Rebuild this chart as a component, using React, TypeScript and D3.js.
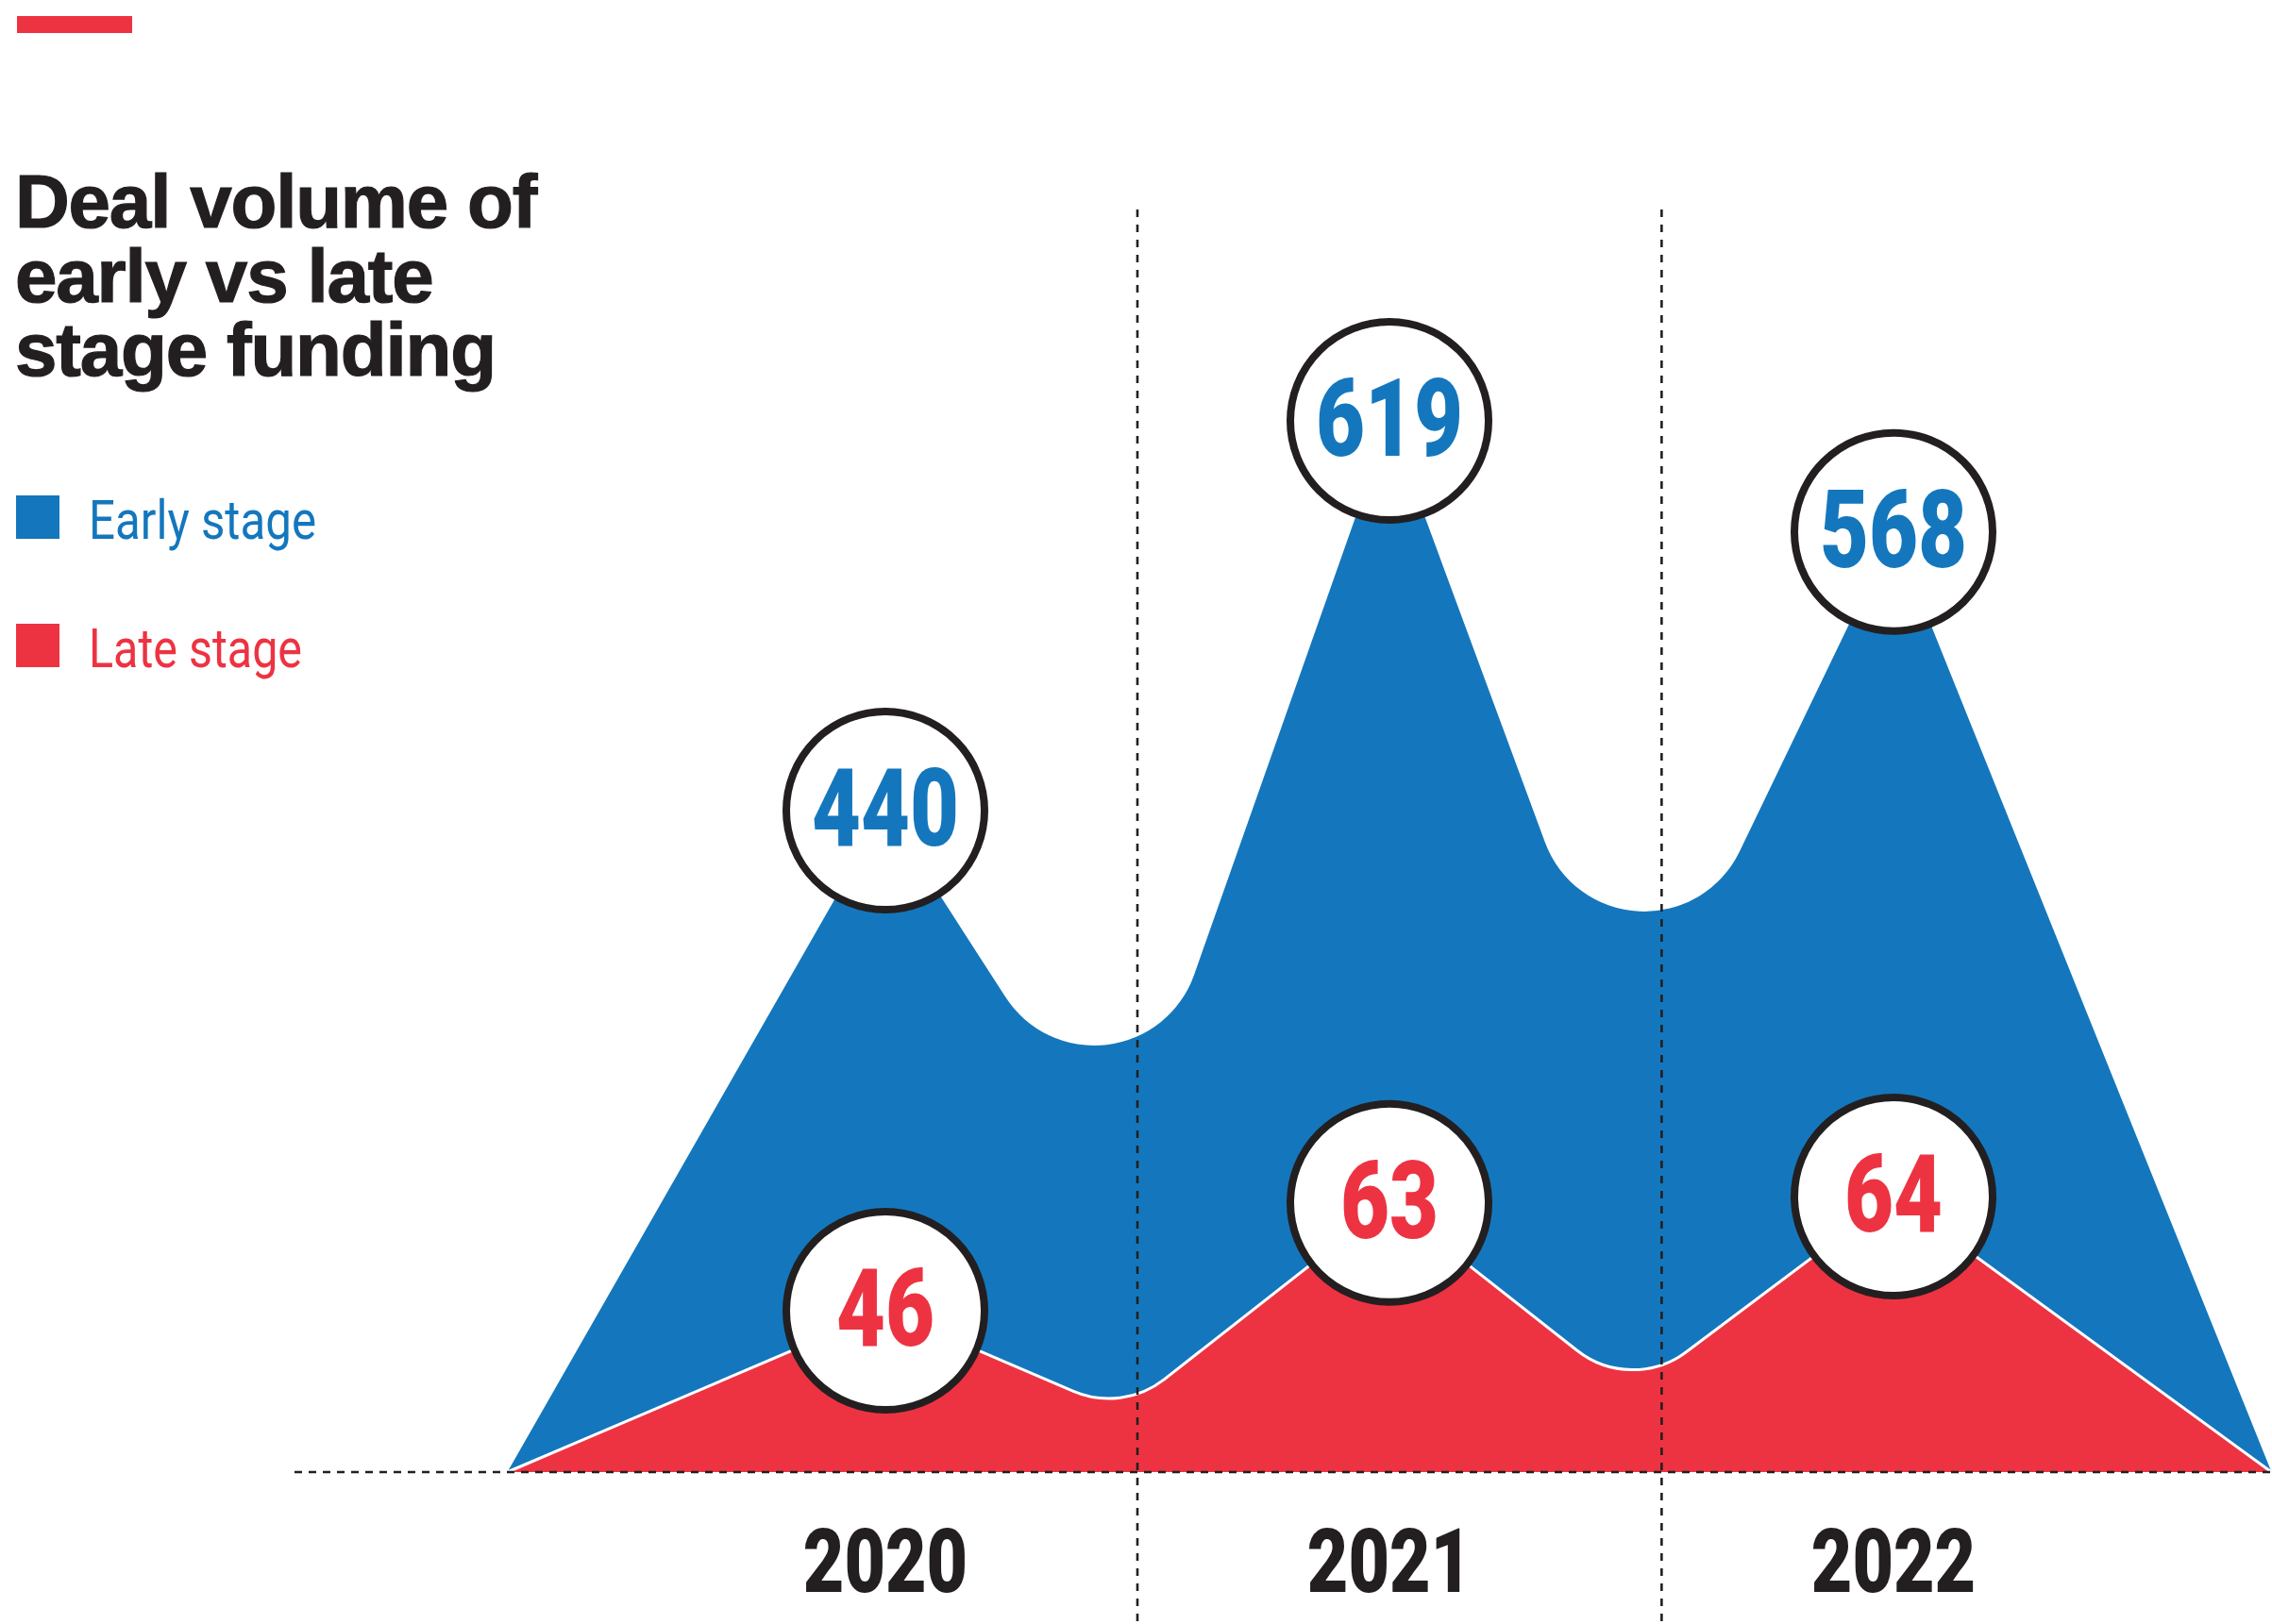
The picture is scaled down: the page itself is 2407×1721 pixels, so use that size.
import React from "react";
import * as d3 from "d3";

// Deal volume by year
const years = [2020, 2021, 2022];
const earlyStage = [440, 619, 568];
const lateStage = [46, 63, 64];

// unlabeled dips between the yearly peaks
const troughYears = [2020.47, 2021.48];
const earlyTroughs = [271, 318];
const lateTroughs = [30, 33];

// where the areas meet the floor, and the year separators
const areaStart = 2019.25;
const areaEnd = 2022.75;
const separatorYears = [2020.5, 2021.54];

const legendItems = ["Early stage", "Late stage"];
const titleLines = ["Deal volume of", "early vs late", "stage funding"];

const W = 2407;
const H = 1721;
const BLUE = "#1477bd";
const RED = "#ed3342";
const INK = "#231f20";
const baseY = 1560;

const x = d3.scaleLinear().domain([2020, 2022]).range([938, 2006]);
const yEarly = d3.scaleLinear().domain([440, 619]).range([859, 446]);
const yLate = d3.scaleLinear().domain([46, 64]).range([1389, 1268]);

type Pt = [number, number];

function seriesPoints(values: number[], troughs: number[], y: d3.ScaleLinear<number, number>): Pt[] {
  const pts: Pt[] = [[x(areaStart), baseY]];
  values.forEach((v, i) => {
    pts.push([x(years[i]), y(v)]);
    if (i < troughs.length) pts.push([x(troughYears[i]), y(troughs[i])]);
  });
  pts.push([x(areaEnd), baseY]);
  return pts;
}

// straight segments, with the dips rounded off
function outline(pts: Pt[], radius: number, close: boolean): string {
  const p = d3.path();
  p.moveTo(pts[0][0], pts[0][1]);
  for (let i = 1; i < pts.length - 1; i++) {
    const isTrough = i % 2 === 0;
    if (isTrough) p.arcTo(pts[i][0], pts[i][1], pts[i + 1][0], pts[i + 1][1], radius);
    else p.lineTo(pts[i][0], pts[i][1]);
  }
  const last = pts[pts.length - 1];
  p.lineTo(last[0], last[1]);
  if (close) p.closePath();
  return p.toString();
}

const earlyPts = seriesPoints(earlyStage, earlyTroughs, yEarly);
const latePts = seriesPoints(lateStage, lateTroughs, yLate);

const numFont = "Roboto, 'Noto Sans', sans-serif";

function Badge({ cx, cy, value, color }: { cx: number; cy: number; value: number; color: string }) {
  return (
    <g>
      <circle cx={cx} cy={cy} r={105} fill="#fff" stroke={INK} strokeWidth={8} />
      <text
        transform={`translate(${cx},${cy + 37}) scale(0.78,1)`}
        textAnchor="middle"
        fontFamily={numFont}
        fontWeight={900}
        fontSize={115}
        fill={color}
      >
        {value}
      </text>
    </g>
  );
}

export default function App() {
  return (
    <svg
      width={W}
      height={H}
      viewBox={`0 0 ${W} ${H}`}
      style={{ position: "absolute", left: 0, top: 0, background: "#fff" }}
    >
      <rect x={0} y={0} width={W} height={H} fill="#fff" />
      <rect x={18} y={17} width={122} height={18} fill={RED} />

      <text
        x={16}
        y={241}
        fontFamily="'Liberation Sans', Arial, sans-serif"
        fontWeight={700}
        fontSize={80}
        letterSpacing={-1.2}
        fill={INK}
        stroke={INK}
        strokeWidth={1.2}
      >
        {titleLines.map((t, i) => (
          <tspan key={t} x={16} dy={i === 0 ? 0 : 78.5}>
            {t}
          </tspan>
        ))}
      </text>

      {legendItems.map((t, i) => (
        <g key={t}>
          <rect x={17} y={525 + i * 136} width={46} height={46} fill={i === 0 ? BLUE : RED} />
          <text
            x={94}
            y={571 + i * 136}
            fontFamily={numFont}
            fontSize={58}
            fill={i === 0 ? BLUE : RED}
            textLength={i === 0 ? 241 : 226}
            lengthAdjust="spacingAndGlyphs"
          >
            {t}
          </text>
        </g>
      ))}

      <path d={outline(earlyPts, 112, true)} fill={BLUE} />
      <path d={outline(latePts, 95, true)} fill={RED} />
      <path d={outline(latePts, 95, false)} fill="none" stroke="#fff" strokeWidth={3} strokeLinejoin="round" />

      <line x1={312} x2={W} y1={baseY} y2={baseY} stroke={INK} strokeWidth={2.6} strokeDasharray="8 7" />
      {separatorYears.map((s) => (
        <line key={s} x1={x(s)} x2={x(s)} y1={222} y2={H} stroke={INK} strokeWidth={2.6} strokeDasharray="8 8" />
      ))}

      {years.map((yr, i) => (
        <g key={yr}>
          <Badge cx={x(yr)} cy={yEarly(earlyStage[i])} value={earlyStage[i]} color={BLUE} />
          <Badge cx={x(yr)} cy={yLate(lateStage[i])} value={lateStage[i]} color={RED} />
          <text
            transform={`translate(${x(yr)},1687) scale(0.8,1)`}
            textAnchor="middle"
            fontFamily={numFont}
            fontWeight={900}
            fontSize={94}
            fill={INK}
          >
            {yr}
          </text>
        </g>
      ))}
    </svg>
  );
}
